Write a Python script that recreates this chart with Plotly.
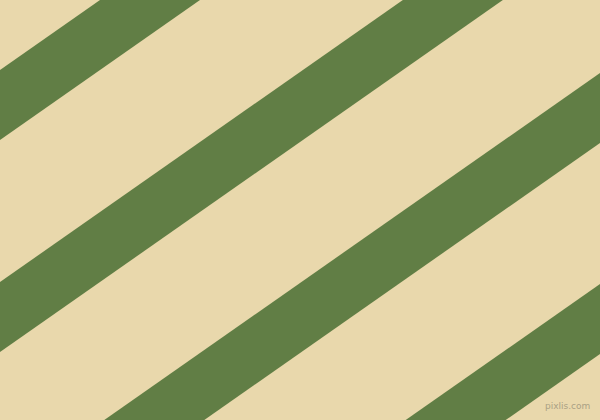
import plotly.graph_objects as go

# diagonal stripes: Y = slope * x + intercept (plot units, y up)
slope = 0.70
stripe_low = [280, 68, -143, -354]   # lower edge intercepts
stripe_width = 70                    # vertical thickness in plot units

bg_color = '#E9D8AC'
stripe_color = '#617E45'

fig = go.Figure()

x0, x1 = -20, 620
for b in stripe_low:
    xs = [x0, x1, x1, x0, x0]
    ys = [slope * x0 + b, slope * x1 + b,
          slope * x1 + b + stripe_width, slope * x0 + b + stripe_width,
          slope * x0 + b]
    fig.add_trace(go.Scatter(x=xs, y=ys, mode='lines', fill='toself',
                             fillcolor=stripe_color, line=dict(width=0),
                             hoverinfo='skip', showlegend=False))

fig.add_annotation(x=592, y=7, xref='x', yref='y', text='pixlis.com',
                   showarrow=False, xanchor='right', yanchor='bottom',
                   font=dict(family='DejaVu Sans', size=9, color='#A9A184'))

fig.update_layout(
    width=600, height=420, margin=dict(l=0, r=0, t=0, b=0),
    paper_bgcolor=bg_color, plot_bgcolor=bg_color,
    xaxis=dict(range=[0, 600], visible=False, fixedrange=True),
    yaxis=dict(range=[0, 420], visible=False, fixedrange=True),
)

# drop the browser's default body margin so the figure fills the window
fig.write_html("out.html", config={'displayModeBar': False},
               post_script="document.body.style.margin='0';"
                           "document.body.style.overflow='hidden';")
